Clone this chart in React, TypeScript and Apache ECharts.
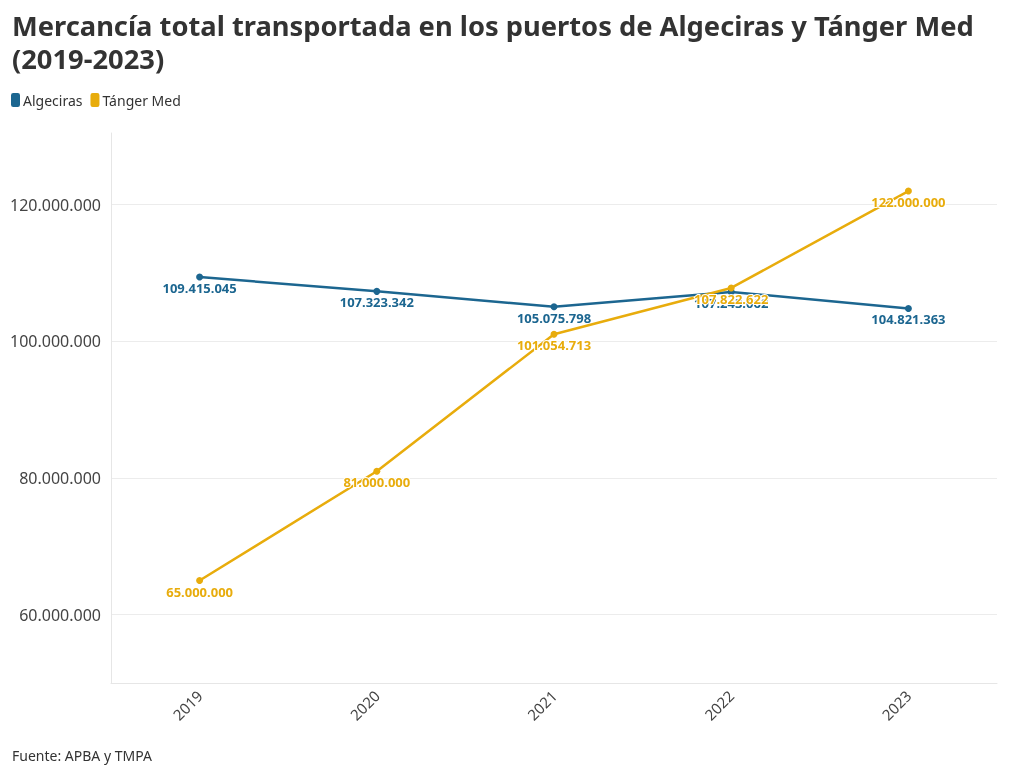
import React, { useEffect, useRef } from "react";
import * as echarts from "echarts";

const years = ["2019", "2020", "2021", "2022", "2023"];
const algeciras = [109415045, 107323342, 105075798, 107243062, 104821363];
const tanger = [65000000, 81000000, 101054713, 107822622, 122000000];
const seriesNames = ["Algeciras", "Tánger Med"];
const titleText = "Mercancía total transportada en los puertos de Algeciras y Tánger Med\n(2019-2023)";
const sourceText = "Fuente: APBA y TMPA";

const BLUE = "#1c6690";
const YELLOW = "#e8ac0c";
const FONT = "'Noto Sans', 'Open Sans', sans-serif";

const fmt = (v: number) => Math.round(v).toString().replace(/\B(?=(\d{3})+(?!\d))/g, ".");

export default function App() {
  const ref = useRef<HTMLDivElement>(null);
  useEffect(() => {
    if (!ref.current) return;
    const chart = echarts.init(ref.current, undefined, { renderer: "svg" });
    const mkLabel = (color: string) => ({
      show: true,
      position: "bottom",
      distance: 1,
      color,
      fontWeight: "bold",
      fontSize: 13,
      fontFamily: FONT,
      textBorderColor: "#fff",
      textBorderWidth: 2,
      formatter: (p: any) => fmt(p.value),
    });
    chart.setOption({
      animation: false,
      textStyle: { fontFamily: FONT },
      title: {
        text: titleText,
        left: 7,
        top: 4,
        textStyle: { fontSize: 27.3, fontWeight: "bold", color: "#333", lineHeight: 33, fontFamily: FONT },
      },
      legend: {
        left: 6,
        top: 88,
        itemWidth: 9,
        itemHeight: 14,
        itemGap: 8,
        icon: "roundRect",
        textStyle: { fontSize: 14, color: "#333", padding: [0, 0, 0, -2] },
        data: seriesNames,
      },
      graphic: [
        {
          type: "text",
          left: 12,
          top: 748,
          style: { text: sourceText, fontSize: 14, fill: "#333", fontFamily: FONT },
        },
      ],
      grid: { left: 111, right: 23, top: 133, bottom: 93, containLabel: false },
      xAxis: {
        type: "category",
        data: years,
        boundaryGap: true,
        axisLine: { lineStyle: { color: "#e6e6e6" } },
        axisTick: { alignWithLabel: true, length: 5, lineStyle: { color: "#e6e6e6" } },
        axisLabel: { rotate: 45, color: "#444", fontSize: 15, margin: 10 },
      },
      yAxis: {
        type: "value",
        min: 50000000,
        max: 130500000,
        splitNumber: 4,
        axisLine: { show: true, lineStyle: { color: "#e6e6e6" } },
        axisTick: { show: false },
        splitLine: { show: true, showMinLine: false, showMaxLine: false, lineStyle: { color: "#ececec" } },
        axisLabel: {
          color: "#444",
          fontSize: 16,
          margin: 10,
          formatter: (v: number) => (v % 20000000 === 0 ? fmt(v) : ""),
        },
      },
      series: [
        {
          name: seriesNames[0],
          type: "line",
          data: algeciras,
          color: BLUE,
          lineStyle: { width: 2.5, color: BLUE },
          symbol: "circle",
          symbolSize: 7,
          label: mkLabel(BLUE),
          z: 2,
        },
        {
          name: seriesNames[1],
          type: "line",
          data: tanger,
          color: YELLOW,
          lineStyle: { width: 2.5, color: YELLOW },
          symbol: "circle",
          symbolSize: 7,
          label: mkLabel(YELLOW),
          z: 3,
        },
      ],
    });
    return () => chart.dispose();
  }, []);
  return <div ref={ref} style={{ position: "fixed", left: 0, top: 0, width: 1020, height: 776 }} />;
}
